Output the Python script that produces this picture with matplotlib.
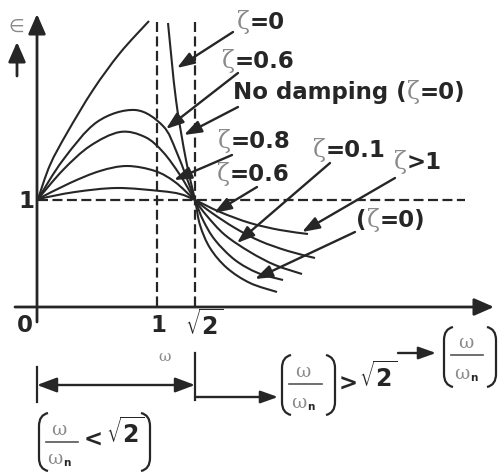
import numpy as np
import matplotlib
matplotlib.use("Agg")
import matplotlib.pyplot as plt
from matplotlib.path import Path
from matplotlib.patches import PathPatch
from matplotlib.offsetbox import TextArea, HPacker, AnnotationBbox

plt.rcParams["mathtext.fontset"] = "dejavusans"

# Curve traces (x, y) in drawing units, y grows downwards
zeta0_left_x = [38, 50, 67, 93, 120, 149]
zeta0_left_y = [199, 165, 133, 90, 53, 21]
zeta0_right_x = [168, 176, 186, 195, 200, 210, 227, 250, 277]
zeta0_right_y = [23, 100, 160, 200, 225, 248, 268, 283, 292]

curve_a_x = [38, 63, 97, 135, 163, 177, 195, 203, 215, 235, 258, 283]
curve_a_y = [199, 160, 122, 110, 126, 153, 200, 220, 240, 260, 273, 280]
curve_b_x = [38, 63, 90, 120, 145, 163, 180, 195, 207, 225, 250, 275, 302]
curve_b_y = [199, 170, 146, 132, 137, 152, 175, 200, 216, 235, 252, 265, 274]
curve_c_x = [38, 70, 100, 127, 155, 175, 195, 212, 235, 260, 288, 315]
curve_c_y = [199, 183, 171, 166, 171, 182, 200, 213, 228, 241, 251, 258]
curve_d_x = [38, 75, 117, 160, 180, 195, 220, 250, 280, 308]
curve_d_y = [199, 192, 188, 191, 194, 200, 212, 223, 230, 234]

labels = [
    ("=0", "", (261, 22)),
    ("=0.6", "", (258, 61)),
    ("=0)", "No damping (", (349, 92)),
    ("=0.8", "", (254, 141)),
    ("=0.6", "", (253, 174)),
    ("=0.1", "", (349, 150)),
    (">1", "", (418, 162)),
    ("=0)", "(", (391, 220)),
]
arrows = [
    ((233, 32), (177, 68)),
    ((238, 73), (166, 129)),
    ((238, 107), (184, 135)),
    ((232, 155), (174, 180)),
    ((257, 187), (214, 213)),
    ((330, 163), (237, 243)),
    ((395, 178), (302, 232)),
    ((355, 232), (255, 279)),
]

INK = "#262626"
GREY = "#8a8a8a"


def smooth_path(xs, ys):
    # Catmull-Rom through the traced points, drawn as cubic Bezier segments
    p = np.column_stack([xs, ys]).astype(float)
    ext = np.vstack([p[0], p, p[-1]])
    verts = [p[0]]
    codes = [Path.MOVETO]
    for i in range(1, len(ext) - 2):
        c1 = ext[i] + (ext[i + 1] - ext[i - 1]) / 6
        c2 = ext[i + 1] - (ext[i + 2] - ext[i]) / 6
        verts += [c1, c2, ext[i + 1]]
        codes += [Path.CURVE4] * 3
    return Path(verts, codes)


def arrow(ax, tail, tip, style="-|>,head_length=0.7,head_width=0.25", lw=1.7, ms=15):
    ax.annotate("", xy=tip, xytext=tail,
                arrowprops=dict(arrowstyle=style, color=INK, lw=lw,
                                mutation_scale=ms, shrinkA=0, shrinkB=0))


def packed(ax, parts, xy):
    boxes = [TextArea(s, textprops=p) for s, p in parts]
    box = HPacker(children=boxes, align="baseline", pad=0, sep=0)
    ab = AnnotationBbox(box, xy, xycoords="data", frameon=False,
                        box_alignment=(0.5, 0.5), pad=0)
    ax.add_artist(ab)


def paren(ax, x, y0, y1, side):
    # tall bracket; side=+1 opens right "(", side=-1 opens left ")"
    d = 9 * side
    verts = [(x + d, y0), (x, y0 + 2), (x, y0 + 13),
             (x, y1 - 13), (x, y1 - 2), (x + d, y1)]
    codes = [Path.MOVETO, Path.CURVE3, Path.CURVE3,
             Path.LINETO, Path.CURVE3, Path.CURVE3]
    ax.add_patch(PathPatch(Path(verts, codes), fc="none", ec=INK, lw=1.6))


def ratio(ax, cx, ynum, yline, yden, x0, x1):
    # omega / omega_n
    ax.text(cx, ynum, "\u03c9", ha="center", va="center", color=GREY,
            fontsize=13.5, family="DejaVu Serif")
    ax.plot([x0, x1], [yline, yline], color="#555555", lw=1.2)
    ax.text(cx - 4, yden, "\u03c9", ha="center", va="center", color=GREY,
            fontsize=13.5, family="DejaVu Serif")
    ax.text(cx + 8, yden + 4, "n", ha="center", va="center", color=INK,
            fontsize=7.5, fontweight="bold")


bold = dict(color=INK, fontsize=16.5, fontweight="bold")
zeta = dict(color=GREY, fontsize=17, family="DejaVu Serif")

fig = plt.figure(figsize=(4.99, 4.72), dpi=100)
ax = fig.add_axes([0, 0, 1, 1])
ax.set_xlim(0, 499)
ax.set_ylim(472, 0)
ax.axis("off")

# reference lines
dash = dict(color=INK, lw=1.6, ls=(0, (4.5, 2)))
ax.plot([157, 157], [22, 307], **dash)
ax.plot([195, 195], [22, 307], **dash)
ax.plot([38, 465], [200, 200], **dash)

# curves
for xs, ys in [(zeta0_left_x, zeta0_left_y), (zeta0_right_x, zeta0_right_y),
               (curve_a_x, curve_a_y), (curve_b_x, curve_b_y),
               (curve_c_x, curve_c_y), (curve_d_x, curve_d_y)]:
    ax.add_patch(PathPatch(smooth_path(xs, ys), fc="none", ec=INK, lw=1.5))

# axes with arrow heads
axis_style = "-|>,head_length=0.8,head_width=0.35"
arrow(ax, (37, 322), (37, 14), style=axis_style, lw=2, ms=15)
arrow(ax, (15, 307), (494, 307), style=axis_style, lw=2, ms=15)
arrow(ax, (17, 76), (17, 42), style=axis_style, lw=2, ms=15)
ax.text(15, 27, r"$\in$", color=GREY, fontsize=13, ha="center", va="center")

# annotations
for (txt, pre, xy) in labels:
    parts = []
    if pre:
        parts.append((pre, bold))
    parts.append(("\u03b6", zeta))
    parts.append((txt, bold))
    packed(ax, parts, xy)
for tail, tip in arrows:
    arrow(ax, tail, tip)

# tick labels
ax.text(25, 325, "0", ha="center", va="center", **bold)
ax.text(158, 325, "1", ha="center", va="center", **bold)
ax.text(26, 201, "1", ha="center", va="center", **bold)
ax.text(204, 325, r"$\sqrt{\mathbf{2}}$", ha="center", va="center",
        color=INK, fontsize=17)
ax.text(165, 357, "\u03c9", ha="center", va="center", color=GREY,
        fontsize=11, family="DejaVu Serif")

# frequency ranges below the axis
ax.plot([37, 37], [367, 402], color=INK, lw=1.6)
ax.plot([195, 195], [353, 400], color=INK, lw=1.6)
arrow(ax, (37, 385), (195, 385), style="<|-|>,head_length=0.8,head_width=0.3", lw=1.7)
arrow(ax, (195, 397), (278, 397))
arrow(ax, (398, 353), (436, 353))

# (w/wn) > sqrt2
paren(ax, 282, 355, 415, 1)
ratio(ax, 303, 372, 384, 403, 289, 322)
paren(ax, 335, 355, 415, -1)
ax.text(348, 384, ">", ha="center", va="center", **bold)
ax.text(378, 377, r"$\sqrt{\mathbf{2}}$", ha="center", va="center",
        color=INK, fontsize=17)

# (w/wn) on the right
paren(ax, 444, 327, 387, 1)
ratio(ax, 466, 343, 355, 374, 451, 483)
paren(ax, 496, 327, 387, -1)

# (w/wn < sqrt2)
paren(ax, 39, 413, 471, 1)
ratio(ax, 59, 430, 442, 459, 46, 78)
ax.text(93, 440, "<", ha="center", va="center", **bold)
ax.text(125, 433, r"$\sqrt{\mathbf{2}}$", ha="center", va="center",
        color=INK, fontsize=17)
paren(ax, 150, 413, 471, -1)

fig.savefig("out.png", dpi=100)
